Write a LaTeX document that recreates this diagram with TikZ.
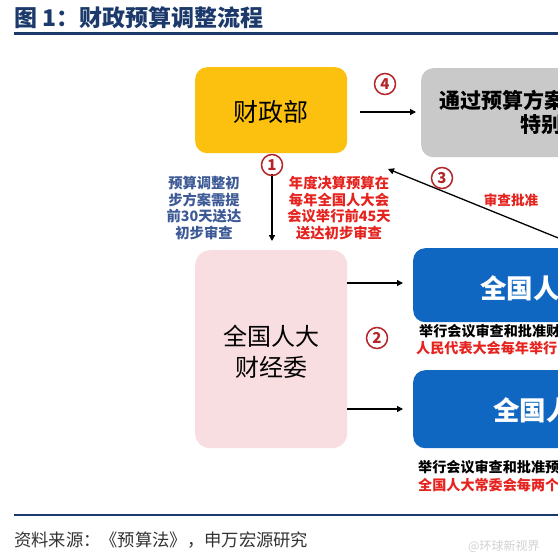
\documentclass[tikz,border=0pt]{standalone}
\usepackage{fontspec}
\setmainfont{Noto Sans CJK SC}
\usetikzlibrary{arrows.meta}
\definecolor{navy}{HTML}{1B3A6B}
\definecolor{ybox}{HTML}{FCC10F}
\definecolor{gbox}{HTML}{C9C9C9}
\definecolor{pbox}{HTML}{F9DEE1}
\definecolor{bbox}{HTML}{0F67C2}
\definecolor{rtxt}{HTML}{E52420}
\definecolor{ctxt}{HTML}{3D5A96}
\definecolor{circ}{HTML}{B5262B}
\definecolor{srcgray}{HTML}{333333}
\tikzset{
  box/.style={rounded corners=12pt, anchor=north west, inner sep=0pt},
  arr/.style={-{Triangle[length=6pt,width=6pt]}, line width=1.3pt, black},
  num/.style={circle, draw=circ, line width=1.5pt, text=circ, font=\fontsize{15}{15}\selectfont\bfseries, minimum size=21pt, inner sep=0pt},
  note/.style={align=center, font=\fontsize{14.3}{16.8}\selectfont\bfseries, inner sep=0pt},
  sub/.style={anchor=west, inner sep=0pt, font=\fontsize{14.1}{14}\selectfont\bfseries},
  bigwhite/.style={anchor=west, inner sep=0pt, text=white, font=\fontsize{26.5}{27}\selectfont\bfseries},
  graytxt/.style={anchor=west, inner sep=0pt, font=\fontsize{21}{22}\selectfont\bfseries},
}
\begin{document}
\begin{tikzpicture}[x=1pt,y=-1pt]
\path[use as bounding box] (0,0) rectangle (558,558);
\clip (0,0) rectangle (558,558);
\fill[white] (0,0) rectangle (558,558);
% title
\node[anchor=west, inner sep=0pt, text=navy, font=\fontsize{23}{26}\selectfont\bfseries] (title) at (14,18) {图 1：财政预算调整流程};
\draw[navy, line width=3pt] (14,33) -- (558,33);
% boxes
\node[box, fill=ybox, minimum width=152pt, minimum height=86pt] (mof) at (195,67) {};
\node[font=\fontsize{25}{25}\selectfont, inner sep=0pt] (moft) at (271,112) {财政部};
\node[box, fill=gbox, minimum width=240pt, minimum height=89pt] (pass) at (421,68) {};
\node[graytxt] (passt1) at (439,100) {通过预算方案};
\node[graytxt] (passt2) at (520,125) {特别};
\node[box, rounded corners=15pt, fill=pbox, minimum width=152pt, minimum height=198pt] (fec) at (195,250) {};
\node[align=center, font=\fontsize{24}{31}\selectfont, inner sep=0pt] (fect) at (271,352) {全国人大\\财经委};
\node[box, fill=bbox, minimum width=240pt, minimum height=74pt] (npc) at (413,248) {};
\node[bigwhite] (npct) at (480,288) {全国人};
\node[box, fill=bbox, minimum width=240pt, minimum height=78pt] (npcsc) at (413,370) {};
\node[bigwhite] (npcsct) at (493,410) {全国人};
% texts under blue boxes
\node[sub] (s1a) at (419,331) {举行会议审查和批准财};
\node[sub, text=rtxt] (s1b) at (416,348) {人民代表大会每年举行};
\node[sub] (s2a) at (418,467) {举行会议审查和批准预};
\node[sub, text=rtxt] (s2b) at (418,485) {全国人大常委会每两个};
% notes
\node[note, text=ctxt] (n1) at (204,208) {预算调整初\\步方案需提\\前30天送达\\初步审查};
\node[note, text=rtxt] (n2) at (339,208) {年度决算预算在\\每年全国人大会\\会议举行前45天\\送达初步审查};
\node[anchor=center, inner sep=0pt, text=rtxt, font=\fontsize{13.6}{14}\selectfont\bfseries] (n3) at (511,200) {审查批准};
% connectors
\coordinate (a1s) at (272,174);
\coordinate (a1e) at (272,241);
\draw[arr] (a1s) -- (a1e);
\coordinate (a4s) at (360,112);
\coordinate (a4e) at (416,112);
\draw[arr] (a4s) -- (a4e);
\coordinate (a2s) at (347,283);
\coordinate (a2e) at (403,283);
\draw[arr] (a2s) -- (a2e);
\coordinate (a5s) at (347,409);
\coordinate (a5e) at (403,409);
\draw[arr] (a5s) -- (a5e);
\coordinate (a3s) at (583,248);
\coordinate (a3e) at (388,169);
\draw[arr] (a3s) -- (a3e);
% circled numbers
\node[num] (c1) at (272,165) {1};
\node[num] (c4) at (385,84) {4};
\node[num] (c3) at (442,178) {3};
\node[num] (c2) at (377,338) {2};
% footer
\draw[navy, line width=2.5pt] (14,515) -- (558,515);
\node[anchor=west, inner sep=0pt, text=srcgray, font=\fontsize{17.3}{20}\selectfont] (src) at (14,540) {资料来源：《预算法》，申万宏源研究};
\node[anchor=west, inner sep=0pt, text=black!18, font=\fontsize{12}{14}\selectfont] (wm) at (468,546) {@环球新视界};
\end{tikzpicture}
\end{document}
